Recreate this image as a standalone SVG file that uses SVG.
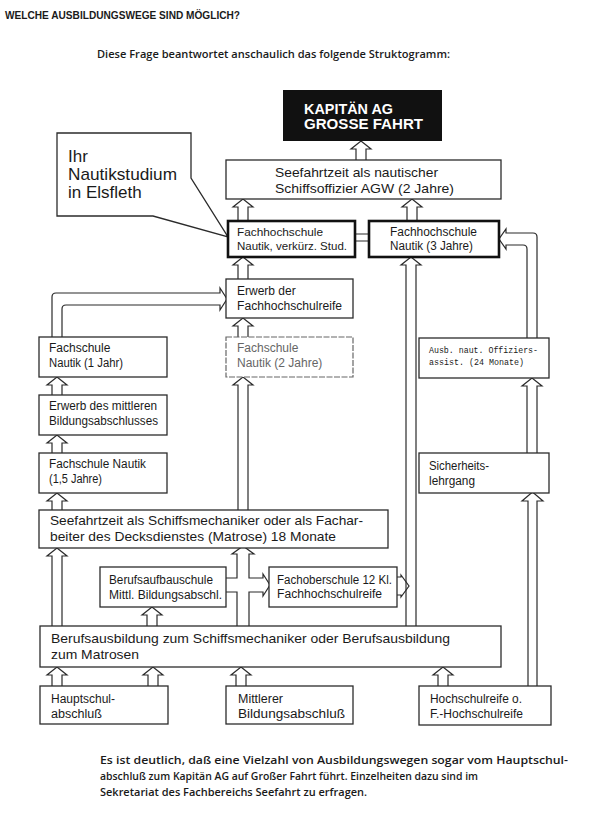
<svg xmlns="http://www.w3.org/2000/svg" width="600" height="817" viewBox="0 0 600 817">
<style>
.bg{fill:#fff}
.box{fill:#fff;stroke:#2b2b2b;stroke-width:1.3}
.thick{fill:#fff;stroke:#111;stroke-width:2.6}
.faded{fill:#fff;stroke:#666;stroke-width:1.2;stroke-dasharray:6 1.5}
.t{font-family:"Liberation Sans",Arial,sans-serif;fill:#1a1a1a}
.g{font-family:"Open Sans","Liberation Sans",sans-serif;font-weight:600;fill:#1a1a1a}
.m{font-family:"Liberation Mono","Courier New",monospace;fill:#1a1a1a}
.arr{fill:#fff;stroke:#2b2b2b;stroke-width:1.2;stroke-linejoin:miter}
.ln{fill:none;stroke:#2b2b2b;stroke-width:1.2}
</style>
<rect class="bg" x="0" y="0" width="600" height="817"/>

<g id="header">
<text class="t" x="5" y="19" font-size="10.5" font-weight="bold" textLength="235" lengthAdjust="spacingAndGlyphs">WELCHE AUSBILDUNGSWEGE SIND MÖGLICH?</text>
<text class="g" x="97" y="58" font-size="11" textLength="353" lengthAdjust="spacingAndGlyphs">Diese Frage beantwortet anschaulich das folgende Struktogramm:</text>
</g>

<g id="connectors">
<path class="arr" d="M356,160 L356,149 L351,149 L361,141 L371,149 L366,149 L366,160"/>
<path class="arr" d="M238,221 L238,207 L233,207 L243,199 L253,207 L248,207 L248,221"/>
<path class="arr" d="M407,221 L407,207 L402,207 L412,199 L422,207 L417,207 L417,221"/>
<path class="arr" d="M238,279 L238,265 L233,265 L243,257 L253,265 L248,265 L248,279"/>
<path class="arr" d="M238,337 L238,326 L233,326 L243,318 L253,326 L248,326 L248,337"/>
<path class="arr" d="M52,395 L52,385 L47,385 L57,377 L67,385 L62,385 L62,395"/>
<path class="arr" d="M52,453 L52,443 L47,443 L57,435 L67,443 L62,443 L62,453"/>
<path class="arr" d="M52,510 L52,501 L47,501 L57,493 L67,501 L62,501 L62,510"/>
<path class="arr" d="M527,453 L527,386 L522,386 L532,378 L542,386 L537,386 L537,453"/>
<path class="arr" d="M52,626 L52,556 L47,556 L57,548 L67,556 L62,556 L62,626"/>
<path class="arr" d="M147,626 L147,615 L142,615 L152,607 L162,615 L157,615 L157,626"/>
<path class="arr" d="M52,686 L52,675 L47,675 L57,667 L67,675 L62,675 L62,686"/>
<path class="arr" d="M148,686 L148,675 L143,675 L153,667 L163,675 L158,675 L158,686"/>
<path class="arr" d="M236,686 L236,675 L231,675 L241,667 L251,675 L246,675 L246,686"/>
<path class="arr" d="M438,686 L438,675 L433,675 L443,667 L453,675 L448,675 L448,686"/>
<path class="arr" d="M238,510 L238,385 L233,385 L243,377 L253,385 L248,385 L248,510"/>
<path class="arr" d="M406,626 L406,265 L401,265 L411,257 L421,265 L416,265 L416,626"/>
<path class="arr" d="M528,686 L528,501 L522,501 L532.5,492 L543,501 L537,501 L537,686"/>
<path class="ln" d="M52,337 L52,297 Q52,293 56,293 L220,293 L220,288 L227,299 L220,310 L220,305 L66,305 Q62,305 62,309 L62,337"/>
<path class="ln" d="M537,338 L537,237 Q537,233 533,233 L506,233 L506,229 L499,239 L506,249 L506,245 L523,245 Q527,245 527,249 L527,338"/>
<path class="ln" d="M355,234 L369,234 M355,241 L369,241"/>
<path class="ln" d="M226,578 L237,578 L237,554 L232,554 L243,546 L254,554 L249,554 L249,578 L263,578 L263,574 L270,585 L263,596 L263,592 L249,592 L249,626"/>
<path class="ln" d="M226,592 L237,592 L237,626"/>
<path class="ln" d="M397,577 L401,577 L401,575 L409,586 L401,597 L401,595 L397,595"/>
</g>

<g id="kapitaen">
<rect x="283" y="90" width="159" height="51" fill="#111"/>
<text class="t" x="304" y="114" font-size="14" font-weight="bold" style="fill:#fff" textLength="89" lengthAdjust="spacingAndGlyphs">KAPITÄN AG</text>
<text class="t" x="304" y="129" font-size="14" font-weight="bold" style="fill:#fff" textLength="119" lengthAdjust="spacingAndGlyphs">GROSSE FAHRT</text>
</g>

<g id="bubble">
<path class="box" d="M57,133 L191,133 L191,178 L228,237 L153,216 L57,216 Z"/>
<text class="t" x="68" y="162" font-size="17">Ihr</text>
<text class="t" x="68" y="180" font-size="17" textLength="109" lengthAdjust="spacingAndGlyphs">Nautikstudium</text>
<text class="t" x="68" y="198" font-size="17">in Elsfleth</text>
</g>

<g id="seefahrt-nautisch">
<rect class="box" x="226" y="160" width="275" height="39"/>
<text class="t" x="275" y="177" font-size="13.5" textLength="163" lengthAdjust="spacingAndGlyphs">Seefahrtzeit als nautischer</text>
<text class="t" x="275" y="193" font-size="13.5" textLength="179" lengthAdjust="spacingAndGlyphs">Schiffsoffizier AGW (2 Jahre)</text>
</g>

<g id="fh-verkuerzt">
<rect class="thick" x="228" y="221" width="127" height="36"/>
<text class="t" x="237" y="236" font-size="11.5" textLength="86" lengthAdjust="spacingAndGlyphs">Fachhochschule</text>
<text class="t" x="237" y="250" font-size="11.5" textLength="110" lengthAdjust="spacingAndGlyphs">Nautik, verkürz. Stud.</text>
</g>

<g id="fh-3jahre">
<rect class="thick" x="369" y="221" width="130" height="36"/>
<text class="t" x="390" y="236" font-size="12" textLength="87" lengthAdjust="spacingAndGlyphs">Fachhochschule</text>
<text class="t" x="390" y="250" font-size="12" textLength="83" lengthAdjust="spacingAndGlyphs">Nautik (3 Jahre)</text>
</g>

<g id="erwerb-fhr">
<rect class="box" x="226" y="279" width="127" height="39"/>
<text class="t" x="237" y="295" font-size="12">Erwerb der</text>
<text class="t" x="237" y="310" font-size="12" textLength="105" lengthAdjust="spacingAndGlyphs">Fachhochschulreife</text>
</g>

<g id="fs-2jahre">
<rect class="faded" x="226" y="337" width="127" height="40"/>
<text class="t" x="237" y="352" font-size="12" style="fill:#666">Fachschule</text>
<text class="t" x="237" y="367" font-size="12" style="fill:#666">Nautik (2 Jahre)</text>
</g>

<g id="fs-1jahr">
<rect class="box" x="39" y="337" width="128" height="40"/>
<text class="t" x="49" y="352" font-size="12">Fachschule</text>
<text class="t" x="49" y="367" font-size="12" textLength="74" lengthAdjust="spacingAndGlyphs">Nautik (1 Jahr)</text>
</g>

<g id="erwerb-mittl">
<rect class="box" x="39" y="395" width="128" height="40"/>
<text class="t" x="49" y="410" font-size="12" textLength="108" lengthAdjust="spacingAndGlyphs">Erwerb des mittleren</text>
<text class="t" x="49" y="425" font-size="12" textLength="109" lengthAdjust="spacingAndGlyphs">Bildungsabschlusses</text>
</g>

<g id="fs-15jahre">
<rect class="box" x="39" y="453" width="128" height="40"/>
<text class="t" x="49" y="468" font-size="12" textLength="97" lengthAdjust="spacingAndGlyphs">Fachschule Nautik</text>
<text class="t" x="49" y="483" font-size="12" textLength="53" lengthAdjust="spacingAndGlyphs">(1,5 Jahre)</text>
</g>

<g id="offiziersassist">
<rect class="box" x="419" y="338" width="130" height="40"/>
<text class="m" x="429" y="353" font-size="9.5" textLength="109" lengthAdjust="spacingAndGlyphs">Ausb. naut. Offiziers-</text>
<text class="m" x="429" y="365" font-size="9.5" textLength="95" lengthAdjust="spacingAndGlyphs">assist. (24 Monate)</text>
</g>

<g id="sicherheit">
<rect class="box" x="419" y="453" width="130" height="40"/>
<text class="t" x="429" y="470" font-size="12" textLength="60" lengthAdjust="spacingAndGlyphs">Sicherheits-</text>
<text class="t" x="429" y="485" font-size="12" textLength="46" lengthAdjust="spacingAndGlyphs">lehrgang</text>
</g>

<g id="seefahrt-mechaniker">
<rect class="box" x="39" y="510" width="349" height="38"/>
<text class="t" x="50" y="525" font-size="13.5" textLength="313" lengthAdjust="spacingAndGlyphs">Seefahrtzeit als Schiffsmechaniker oder als Fachar-</text>
<text class="t" x="50" y="541" font-size="13.5" textLength="286" lengthAdjust="spacingAndGlyphs">beiter des Decksdienstes (Matrose) 18 Monate</text>
</g>

<g id="berufsaufbauschule">
<rect class="box" x="100" y="567" width="126" height="40"/>
<text class="t" x="109" y="584" font-size="12" textLength="104" lengthAdjust="spacingAndGlyphs">Berufsaufbauschule</text>
<text class="t" x="109" y="599" font-size="12" textLength="113" lengthAdjust="spacingAndGlyphs">Mittl. Bildungsabschl.</text>
</g>

<g id="fachoberschule">
<rect class="box" x="269" y="567" width="128" height="40"/>
<text class="t" x="277" y="584" font-size="12" textLength="115" lengthAdjust="spacingAndGlyphs">Fachoberschule 12 Kl.</text>
<text class="t" x="277" y="598" font-size="12" textLength="105" lengthAdjust="spacingAndGlyphs">Fachhochschulreife</text>
</g>

<g id="berufsausbildung">
<rect class="box" x="40" y="626" width="461" height="41"/>
<text class="t" x="51" y="643" font-size="13.5" textLength="399" lengthAdjust="spacingAndGlyphs">Berufsausbildung zum Schiffsmechaniker oder Berufsausbildung</text>
<text class="t" x="51" y="659" font-size="13.5" textLength="88" lengthAdjust="spacingAndGlyphs">zum Matrosen</text>
</g>

<g id="hauptschule">
<rect class="box" x="40" y="686" width="128" height="38"/>
<text class="t" x="51" y="703" font-size="12" textLength="64" lengthAdjust="spacingAndGlyphs">Hauptschul-</text>
<text class="t" x="51" y="718" font-size="12" textLength="51" lengthAdjust="spacingAndGlyphs">abschluß</text>
</g>

<g id="mittlerer">
<rect class="box" x="226" y="686" width="127" height="38"/>
<text class="t" x="238" y="703" font-size="12" textLength="45" lengthAdjust="spacingAndGlyphs">Mittlerer</text>
<text class="t" x="238" y="718" font-size="12" textLength="107" lengthAdjust="spacingAndGlyphs">Bildungsabschluß</text>
</g>

<g id="hochschulreife">
<rect class="box" x="419" y="686" width="132" height="39"/>
<text class="t" x="430" y="703" font-size="12" textLength="92" lengthAdjust="spacingAndGlyphs">Hochschulreife o.</text>
<text class="t" x="430" y="718" font-size="12" textLength="93" lengthAdjust="spacingAndGlyphs">F.-Hochschulreife</text>
</g>

<g id="footer">
<text class="g" x="100" y="764" font-size="11.5" textLength="468" lengthAdjust="spacingAndGlyphs">Es ist deutlich, daß eine Vielzahl von Ausbildungswegen sogar vom Hauptschul-</text>
<text class="g" x="100" y="780" font-size="11.5" textLength="378" lengthAdjust="spacingAndGlyphs">abschluß zum Kapitän AG auf Großer Fahrt führt. Einzelheiten dazu sind im</text>
<text class="g" x="100" y="796" font-size="11.5" textLength="267" lengthAdjust="spacingAndGlyphs">Sekretariat des Fachbereichs Seefahrt zu erfragen.</text>
</g>
</svg>
